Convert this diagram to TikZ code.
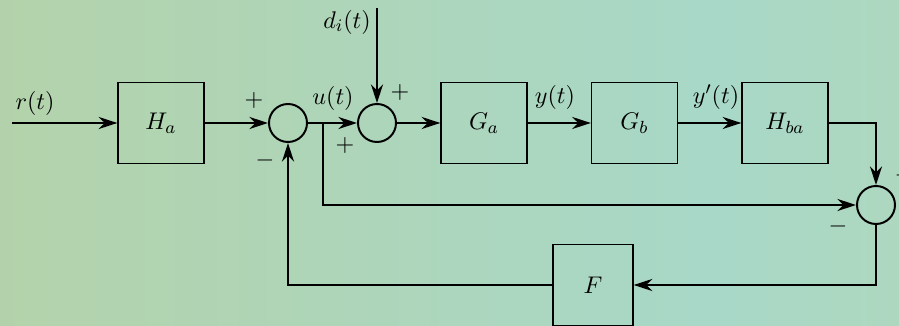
\documentclass[tikz,border=0pt]{standalone}
\usetikzlibrary{arrows.meta}
\definecolor{bgl}{RGB}{184,208,158}
\definecolor{bgm}{RGB}{168,216,200}
\definecolor{bgr}{RGB}{188,214,168}
\pgfdeclarehorizontalshading{bgshade}{100bp}{color(0bp)=(bgl); color(25bp)=(bgl!70!bgm); color(65bp)=(bgm); color(100bp)=(bgr)}
\newdimen\pxu \pxu=0.4545pt
\tikzset{
  x=0.4545pt, y=-0.4545pt,
  every node/.style={font=\fontsize{11}{13}\selectfont},
  blk/.style={draw, line width=0.6pt, minimum width={86*\pxu}, minimum height={81*\pxu}, inner sep=0pt},
  sumj/.style={draw, circle, line width=0.9pt, minimum size={38*\pxu}, inner sep=0pt},
  arr/.style={line width=0.9pt, -{Stealth[length=8.5pt,width=5.5pt,inset=2.8pt]}},
  lbl/.style={inner sep=0pt}
}
\begin{document}
\begin{tikzpicture}
\useasboundingbox (0,0) rectangle (899,326);
\clip (0,0) rectangle (899,326);
\shade[shading=bgshade] (0,0) rectangle (899,326);
% blocks
\node[blk] (Ha) at (161,123) {$H_a$};
\node[blk] (Ga) at (484,123) {$G_a$};
\node[blk] (Gb) at (634.5,123) {$G_b$};
\node[blk] (Hba) at (785,123) {$H_{ba}$};
\node[blk, minimum width={80*\pxu}] (F) at (593,285) {$F$};
% summing junctions
\node[sumj] (s1) at (288,123) {};
\node[sumj] (s2) at (377,123) {};
\node[sumj] (s3) at (876,205) {};
% coordinates
\coordinate (rin) at (12,123);
\coordinate (din) at (377,8);
\coordinate (br) at (323,123);
% connectors
\draw[arr] (rin) -- (Ha);
\draw[arr] (Ha) -- (s1);
\draw[arr] (s1) -- (s2);
\draw[arr] (din) -- (s2);
\draw[arr] (s2) -- (Ga);
\draw[arr] (Ga) -- (Gb);
\draw[arr] (Gb) -- (Hba);
\draw[arr] (Hba.east) -| (s3);
\draw[arr] (br) |- (s3);
\draw[arr] (s3) |- (F);
\draw[arr] (F) -| (s1);
% labels
\node[lbl] (lr) at (35,103) {$r(t)$};
\node[lbl] (lu) at (333,98) {$u(t)$};
\node[lbl] (ld) at (347,22) {$d_i(t)$};
\node[lbl] (ly) at (555,97) {$y(t)$};
\node[lbl] (lyp) at (716,97) {$y'(t)$};
\node[lbl] (p1) at (254,100) {$+$};
\node[lbl] (m1) at (265,160) {$-$};
\node[lbl] (p2) at (345,145) {$+$};
\node[lbl] (p3) at (400,92) {$+$};
\node[lbl] (m3) at (904,175) {$-$};
\node[lbl] (m4) at (838,226) {$-$};
\end{tikzpicture}
\end{document}
